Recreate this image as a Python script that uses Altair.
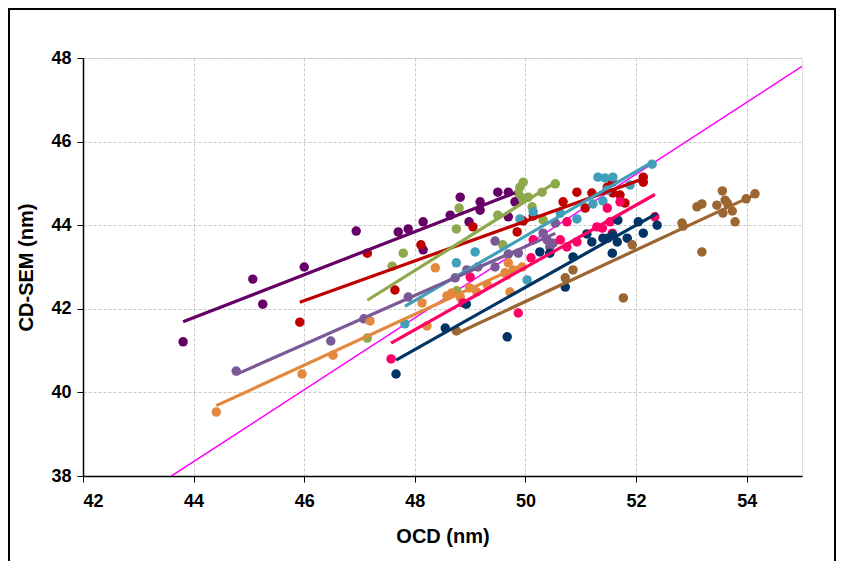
import altair as alt
import pandas as pd

series_names = ["A", "B", "C", "D", "E", "F", "G", "H", "I"]
series_colors = ["#660066", "#C00000", "#8EA94B", "#40A0BA", "#7A5A96",
                 "#E3883D", "#FF0066", "#003366", "#9C6632"]

purple_x = [43.81, 45.07, 45.25, 46.00, 46.94, 47.70, 47.88, 48.15, 48.15, 48.64, 48.82, 48.98, 49.18, 49.18, 49.50, 49.69, 49.69, 49.81]
purple_y = [41.21, 42.71, 42.11, 43.00, 43.86, 43.84, 43.91, 44.08, 43.41, 44.24, 44.67, 44.08, 44.56, 44.36, 44.79, 44.79, 44.20, 44.56]

red_x = [45.92, 47.14, 47.64, 48.11, 49.05, 49.85, 49.96, 50.14, 50.68, 50.93, 51.08, 51.20, 51.48, 51.57, 51.58, 51.71, 51.80, 52.13, 52.13]
red_y = [41.68, 43.33, 42.45, 43.53, 43.96, 43.84, 44.10, 44.22, 44.56, 44.79, 44.41, 44.77, 44.91, 45.03, 44.77, 44.72, 44.53, 45.15, 45.03]

green_x = [47.14, 47.59, 47.79, 48.75, 48.76, 48.80, 49.50, 49.59, 49.90, 49.96, 49.87, 49.94, 50.05, 50.12, 50.30, 50.54, 50.32]
green_y = [41.30, 43.02, 43.33, 43.91, 42.43, 44.41, 44.24, 43.53, 44.91, 45.03, 44.77, 44.65, 44.67, 44.44, 44.79, 44.99, 44.12]

teal_x = [47.82, 48.75, 49.09, 49.90, 50.03, 50.14, 50.63, 50.93, 51.22, 51.31, 51.40, 51.44, 51.48, 51.58, 51.89, 52.29]
teal_y = [41.64, 43.10, 43.36, 44.15, 42.69, 44.32, 44.29, 44.15, 44.51, 45.15, 44.58, 45.13, 44.84, 45.15, 44.96, 45.46]

lav_x = [44.77, 46.48, 47.08, 47.88, 48.73, 48.94, 49.14, 49.45, 49.45, 49.69, 49.87, 50.32, 50.39, 50.44, 50.50, 50.54]
lav_y = [40.51, 41.23, 41.76, 42.28, 42.74, 42.93, 43.00, 43.62, 43.00, 43.31, 43.33, 43.81, 43.65, 43.48, 43.57, 44.05]

orange_x = [44.41, 45.96, 46.52, 47.19, 48.13, 48.22, 48.37, 48.58, 48.67, 48.82, 48.99, 49.12, 49.31, 49.63, 49.67, 49.69, 49.72, 49.78, 49.94]
orange_y = [39.53, 40.44, 40.89, 41.71, 42.14, 41.59, 42.98, 42.31, 42.38, 42.28, 42.50, 42.40, 42.57, 42.86, 42.81, 43.10, 42.40, 42.93, 43.00]

pink_x = [47.57, 48.87, 49.00, 49.87, 50.10, 50.14, 50.63, 50.75, 50.75, 50.93, 51.29, 51.39, 51.48, 51.53, 51.57, 51.71, 52.34]
pink_y = [40.80, 42.14, 42.76, 41.90, 43.22, 43.65, 43.65, 44.08, 43.48, 43.60, 43.96, 43.93, 44.41, 44.08, 43.81, 44.56, 44.20]

navy_x = [47.66, 48.55, 48.93, 49.67, 50.26, 50.44, 50.72, 50.86, 51.11, 51.20, 51.40, 51.49, 51.57, 51.58, 51.66, 51.67, 51.84, 52.04, 52.13, 52.38]
navy_y = [40.44, 41.54, 42.11, 41.33, 43.36, 43.33, 42.52, 43.24, 43.79, 43.60, 43.69, 43.69, 43.33, 43.77, 43.60, 44.12, 43.69, 44.08, 43.81, 44.00]

brown_x = [48.75, 50.72, 50.86, 51.77, 51.93, 52.83, 52.85, 53.10, 53.19, 53.19, 53.46, 53.56, 53.61, 53.65, 53.57, 53.74, 53.79, 53.99, 54.15]
brown_y = [41.47, 42.74, 42.93, 42.26, 43.53, 44.05, 43.98, 44.44, 44.51, 43.36, 44.48, 44.82, 44.60, 44.53, 44.29, 44.34, 44.08, 44.63, 44.75]

ref_x = [43.6, 55.0]
ref_y = [38.0, 47.8]

x_ticks = [42, 44, 46, 48, 50, 52, 54]
y_ticks = [38, 40, 42, 44, 46, 48]

all_x = [purple_x, red_x, green_x, teal_x, lav_x, orange_x, pink_x, navy_x, brown_x]
all_y = [purple_y, red_y, green_y, teal_y, lav_y, orange_y, pink_y, navy_y, brown_y]

rows = []
for name, xs, ys in zip(series_names, all_x, all_y):
    for a, b in zip(xs, ys):
        rows.append({"series": name, "ocd": a, "sem": b})
df = pd.DataFrame(rows)
ref_df = pd.DataFrame({"ocd": ref_x, "sem": ref_y})

FONT = "Liberation Sans Narrow, Arial Narrow, Liberation Sans, Arial"
TFONT = "Liberation Sans, Arial"

xscale = alt.Scale(domain=[42, 55], nice=False, zero=False)
yscale = alt.Scale(domain=[38, 48], nice=False, zero=False)
color = alt.Color("series:N", scale=alt.Scale(domain=series_names, range=series_colors), legend=None)

xaxis = alt.Axis(values=x_ticks, title="OCD (nm)", labelFont=FONT, labelFontSize=18,
                 labelFontWeight="bold", labelColor="#000", titleFont=TFONT, titleFontSize=20,
                 titleFontWeight="bold", titleColor="#000", titlePadding=16, tickSize=6,
                 tickColor="#000", domainColor="#000", domainWidth=1.5, labelPadding=10,
                 gridColor="#c8c8c8", gridDash=[3, 2], gridWidth=1)
yaxis = alt.Axis(values=y_ticks, title="CD-SEM (nm)", labelFont=FONT, labelFontSize=18,
                 labelFontWeight="bold", labelColor="#000", titleFont=TFONT, titleFontSize=20,
                 titleFontWeight="bold", titleColor="#000", titlePadding=14, tickSize=6,
                 tickColor="#000", domainColor="#000", domainWidth=1.5, labelPadding=6,
                 gridColor="#c8c8c8", gridDash=[3, 2], gridWidth=1)

ref = alt.Chart(ref_df).mark_line(color="#FF00FF", strokeWidth=1.5, clip=True).encode(
    x=alt.X("ocd:Q", scale=xscale, axis=xaxis),
    y=alt.Y("sem:Q", scale=yscale, axis=yaxis),
)

points = alt.Chart(df).mark_circle(size=90, opacity=1).encode(
    x=alt.X("ocd:Q", scale=xscale),
    y=alt.Y("sem:Q", scale=yscale),
    color=color,
)

fits = alt.Chart(df).transform_regression("ocd", "sem", groupby=["series"]).mark_line(
    strokeWidth=3.2).encode(
    x=alt.X("ocd:Q", scale=xscale),
    y=alt.Y("sem:Q", scale=yscale),
    color=color,
)

border = alt.Chart(ref_df).mark_rect(fill=None, stroke="#000", strokeWidth=2, clip=False).encode(
    x=alt.value(-74), x2=alt.value(752), y=alt.value(-49), y2=alt.value(530)
).transform_filter("datum.ocd < 50")

chart = alt.layer(ref, points, fits, border).properties(
    width=719, height=418,
    autosize=alt.AutoSizeParams(type="none"),
    padding={"left": 75, "top": 50, "right": 34, "bottom": 85},
).configure_view(stroke=None).configure(background="white")

chart.save("out.html", embed_options={"renderer": "svg", "actions": False})
